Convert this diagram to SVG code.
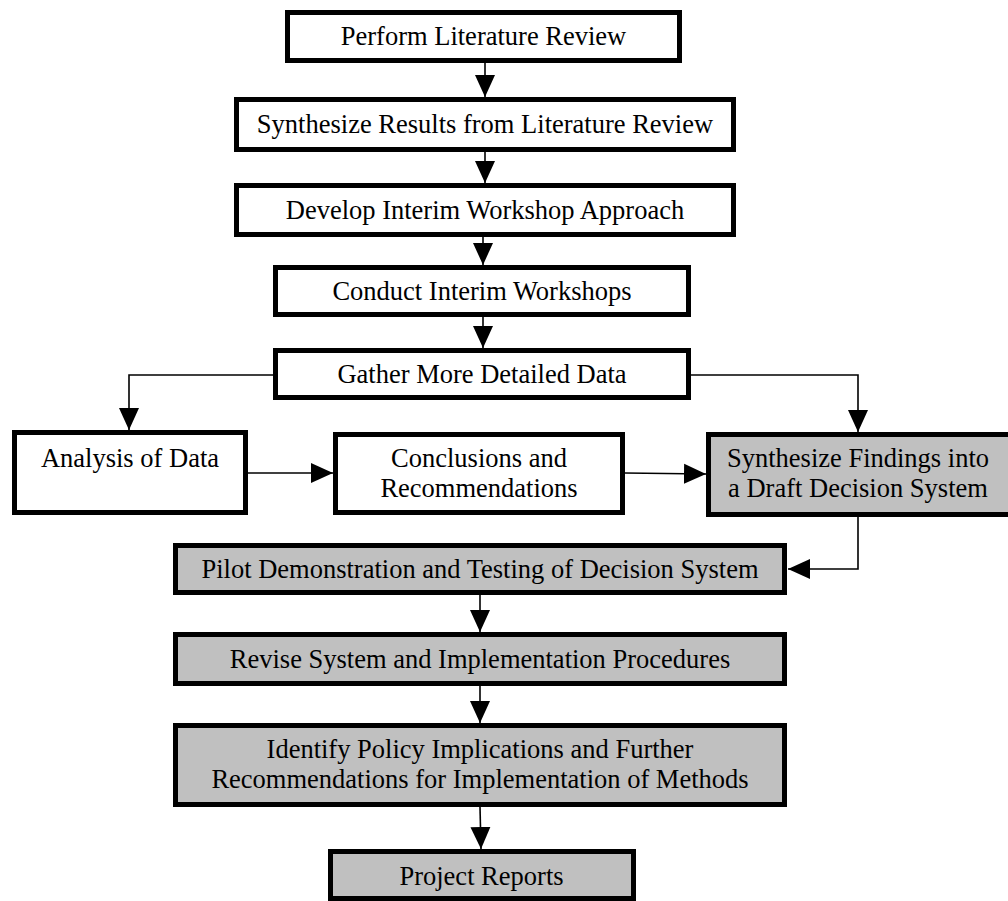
<svg xmlns="http://www.w3.org/2000/svg" width="1008" height="901" viewBox="0 0 1008 901">
<defs>
<style>
.box{fill:#fff;stroke:#000;stroke-width:5}
.g{fill:#c0c0c0}
.t{font-family:"Liberation Serif","Times New Roman",serif;font-size:26.5px;fill:#000;text-anchor:middle}
.c{fill:none;stroke:#000;stroke-width:1.6}
</style>
<marker id="ah" markerUnits="userSpaceOnUse" markerWidth="22" markerHeight="22" viewBox="0 0 22 22" refX="22" refY="11" orient="auto">
<path d="M0,1 L22,11 L0,21 Z" fill="#000"/>
</marker>
</defs>
<rect width="1008" height="901" fill="#fff"/>
<g id="connectors">
<line class="c" x1="485" y1="63" x2="485" y2="97" marker-end="url(#ah)"/>
<line class="c" x1="485" y1="152" x2="485" y2="183" marker-end="url(#ah)"/>
<line class="c" x1="483" y1="237" x2="483" y2="265" marker-end="url(#ah)"/>
<line class="c" x1="483" y1="317" x2="483" y2="348" marker-end="url(#ah)"/>
<path class="c" d="M273,375 H129 V430" marker-end="url(#ah)"/>
<path class="c" d="M691,375 H858 V432" marker-end="url(#ah)"/>
<line class="c" x1="248" y1="473" x2="333" y2="473" marker-end="url(#ah)"/>
<line class="c" x1="625" y1="473" x2="706" y2="474" marker-end="url(#ah)"/>
<path class="c" d="M858,517 V569 H788" marker-end="url(#ah)"/>
<line class="c" x1="480" y1="595" x2="480" y2="632" marker-end="url(#ah)"/>
<line class="c" x1="480" y1="686" x2="480" y2="723" marker-end="url(#ah)"/>
<line class="c" x1="480" y1="807" x2="481" y2="849" marker-end="url(#ah)"/>
</g>
<g id="n1"><rect class="box" x="287.5" y="12.5" width="392" height="48"/><text class="t" x="483.5" y="45">Perform Literature Review</text></g>
<g id="n2"><rect class="box" x="236.5" y="99.5" width="497" height="50"/><text class="t" x="485" y="133">Synthesize Results from Literature Review</text></g>
<g id="n3"><rect class="box" x="236.5" y="185.5" width="497" height="49"/><text class="t" x="485" y="219">Develop Interim Workshop Approach</text></g>
<g id="n4"><rect class="box" x="275.5" y="267.5" width="413" height="47"/><text class="t" x="482" y="300">Conduct Interim Workshops</text></g>
<g id="n5"><rect class="box" x="275.5" y="350.5" width="413" height="47"/><text class="t" x="482" y="383">Gather More Detailed Data</text></g>
<g id="n6"><rect class="box" x="14.5" y="432.5" width="231" height="80"/><text class="t" x="130" y="467">Analysis of Data</text></g>
<g id="n7"><rect class="box" x="335.5" y="434.5" width="287" height="78"/><text class="t" x="479" y="467">Conclusions and</text><text class="t" x="479" y="497">Recommendations</text></g>
<g id="n8"><rect class="box g" x="708.5" y="434.5" width="303" height="80"/><text class="t" x="858" y="467">Synthesize Findings into</text><text class="t" x="858" y="497">a Draft Decision System</text></g>
<g id="n9"><rect class="box g" x="175.5" y="545.5" width="609" height="47"/><text class="t" x="480" y="578">Pilot Demonstration and Testing of Decision System</text></g>
<g id="n10"><rect class="box g" x="175.5" y="634.5" width="609" height="49"/><text class="t" x="480" y="668">Revise System and Implementation Procedures</text></g>
<g id="n11"><rect class="box g" x="175.5" y="725.5" width="609" height="79"/><text class="t" x="480" y="758">Identify Policy Implications and Further</text><text class="t" x="480" y="788">Recommendations for Implementation of Methods</text></g>
<g id="n12"><rect class="box g" x="330.5" y="851.5" width="303" height="47"/><text class="t" x="481.5" y="885">Project Reports</text></g>
</svg>
